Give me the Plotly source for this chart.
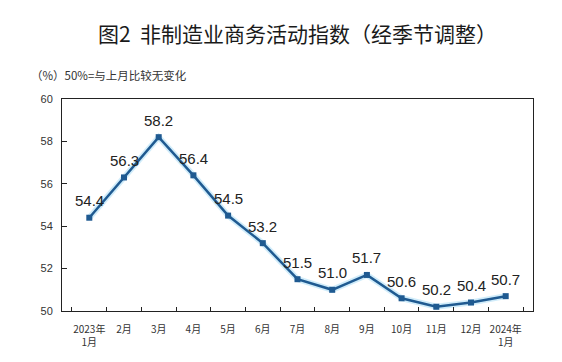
import plotly.graph_objects as go

categories = ["2023年<br>1月", "2月", "3月", "4月", "5月", "6月", "7月", "8月",
              "9月", "10月", "11月", "12月", "2024年<br>1月"]
values = [54.4, 56.3, 58.2, 56.4, 54.5, 53.2, 51.5, 51.0, 51.7, 50.6, 50.2, 50.4, 50.7]
y_ticks = [50, 52, 54, 56, 58, 60]

title_text = "图2  非制造业商务活动指数（经季节调整）"
unit_text = "（%）50%=与上月比较无变化"

LINE = "#1f5a91"
FONT = "Liberation Sans, Arial, Noto Sans CJK SC, sans-serif"
CJK = "Noto Sans CJK SC, sans-serif"

fig = go.Figure()
# soft light-blue glow under the line
fig.add_trace(go.Scatter(
    x=categories, y=values, mode="lines",
    line=dict(color="rgba(150,212,245,0.45)", width=6),
    hoverinfo="skip", showlegend=False,
))
fig.add_trace(go.Scatter(
    x=categories, y=values, mode="lines+markers",
    line=dict(color=LINE, width=2.5),
    marker=dict(symbol="square", size=6, color=LINE),
    showlegend=False,
))

for c, v in zip(categories, values):
    fig.add_annotation(
        x=c, y=v, text=f"{v:.1f}", showarrow=False,
        xref="x", yref="y", yshift=17, yanchor="middle",
        font=dict(family=FONT, size=15, color="#222222"),
    )

fig.add_annotation(
    text=title_text, xref="paper", yref="paper", x=0.5, y=1.0, yshift=66,
    xanchor="center", yanchor="middle", showarrow=False,
    font=dict(family=CJK, size=21, color="#1a1a1a"),
)
fig.add_annotation(
    text=unit_text, xref="paper", yref="paper", x=-0.07, y=1.0, yshift=24,
    xanchor="left", yanchor="middle", showarrow=False,
    font=dict(family=CJK, size=11.5, color="#333333"),
)

fig.update_layout(
    width=562, height=362,
    margin=dict(l=62, r=29, t=99, b=51),
    paper_bgcolor="white", plot_bgcolor="white",
    font=dict(family=FONT, size=11, color="#333333"),
)
fig.update_xaxes(
    type="category", showgrid=False, zeroline=False, automargin=False,
    showline=True, linecolor="#222222", linewidth=1, mirror=True,
    ticks="inside", ticklen=4, tickcolor="#222222", tickson="boundaries",
    tickangle=0, ticklabelstandoff=9,
    tickfont=dict(family=CJK, size=10, color="#333333"),
)
fig.update_yaxes(
    range=[50, 60], tickvals=y_ticks, showgrid=False, zeroline=False,
    automargin=False,
    showline=True, linecolor="#222222", linewidth=1, mirror=True,
    ticks="inside", ticklen=5, tickcolor="#222222", ticklabelstandoff=6,
    tickfont=dict(family=FONT, size=11, color="#333333"),
)

fig.write_html(
    "out.html",
    config={"displayModeBar": False},
    post_script="document.body.style.margin='0';document.body.style.overflow='hidden';",
)
